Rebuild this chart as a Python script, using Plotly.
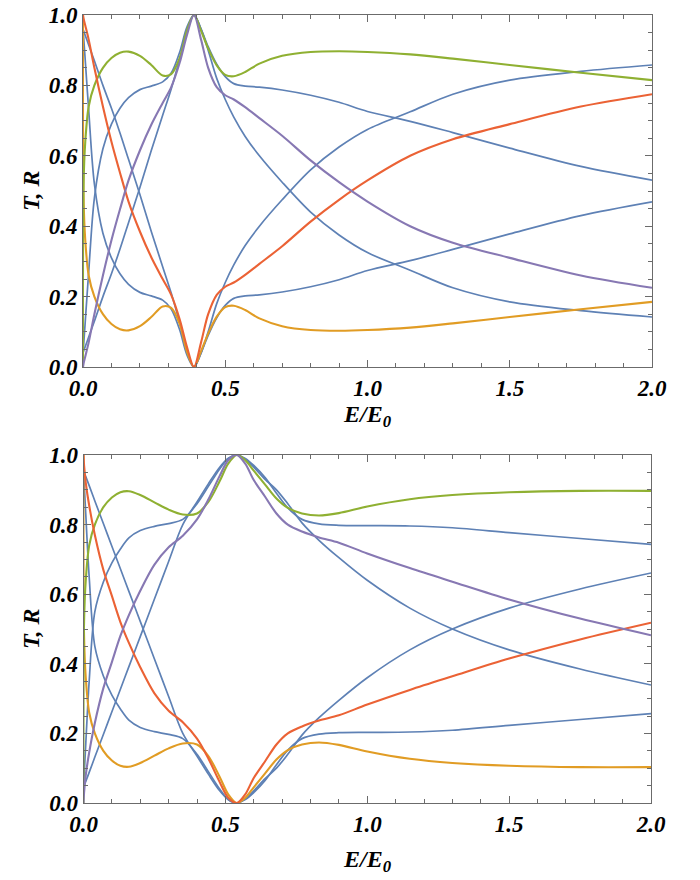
import plotly.graph_objects as go

# ---------------- upper panel: energy grid and curves ----------------
E_top = [0, 0.002, 0.008, 0.02, 0.04, 0.07, 0.1, 0.13, 0.16, 0.2, 0.24, 0.28, 0.31, 0.34, 0.365,
         0.39, 0.415, 0.44, 0.47, 0.5, 0.53, 0.57, 0.62, 0.7, 0.8, 0.9, 1.0, 1.15, 1.3, 1.5, 1.75, 2.0]

green_top = [0.0, 0.52, 0.64, 0.74, 0.80, 0.85, 0.878, 0.893, 0.896, 0.884, 0.858, 0.828, 0.832, 0.878, 0.955,
             1.0, 0.955, 0.905, 0.857, 0.83, 0.826, 0.838, 0.862, 0.884, 0.895, 0.897, 0.895, 0.888, 0.876, 0.858, 0.836, 0.815]
orange_top = [1.0, 0.48, 0.36, 0.26, 0.20, 0.15, 0.122, 0.107, 0.104, 0.116, 0.142, 0.172, 0.168, 0.122, 0.045,
              0.0, 0.045, 0.095, 0.143, 0.17, 0.174, 0.162, 0.138, 0.116, 0.105, 0.103, 0.105, 0.112, 0.124, 0.142, 0.164, 0.185]
red_top = [1.0, 0.99, 0.97, 0.93, 0.85, 0.74, 0.64, 0.552, 0.47, 0.385, 0.312, 0.25, 0.205, 0.135, 0.058,
           0.0, 0.07, 0.15, 0.205, 0.228, 0.24, 0.262, 0.293, 0.343, 0.413, 0.475, 0.53, 0.6, 0.647, 0.69, 0.74, 0.775]
purple_top = [0.0, 0.01, 0.03, 0.07, 0.15, 0.26, 0.36, 0.448, 0.53, 0.615, 0.688, 0.75, 0.795, 0.865, 0.942,
              1.0, 0.93, 0.85, 0.795, 0.772, 0.76, 0.738, 0.707, 0.657, 0.587, 0.525, 0.47, 0.4, 0.353, 0.31, 0.26, 0.225]
blue_a_top = [0.96, 0.955, 0.942, 0.915, 0.87, 0.80, 0.735, 0.665, 0.59, 0.49, 0.385, 0.285, 0.21, 0.125, 0.045,
              0.0, 0.04, 0.1, 0.18, 0.24, 0.29, 0.345, 0.4, 0.475, 0.56, 0.625, 0.675, 0.725, 0.775, 0.815, 0.84, 0.858]
blue_b_top = [0.04, 0.045, 0.058, 0.085, 0.13, 0.20, 0.265, 0.335, 0.41, 0.51, 0.615, 0.715, 0.79, 0.875, 0.955,
              1.0, 0.96, 0.9, 0.82, 0.76, 0.71, 0.655, 0.6, 0.525, 0.44, 0.375, 0.325, 0.275, 0.225, 0.185, 0.16, 0.142]
blue_c_top = [0.04, 0.06, 0.13, 0.27, 0.48, 0.62, 0.69, 0.735, 0.765, 0.788, 0.798, 0.81, 0.835, 0.895, 0.965,
              1.0, 0.96, 0.91, 0.86, 0.825, 0.805, 0.798, 0.795, 0.787, 0.772, 0.752, 0.726, 0.698, 0.666, 0.622, 0.57, 0.531]
blue_d_top = [0.96, 0.94, 0.87, 0.73, 0.52, 0.38, 0.31, 0.265, 0.235, 0.212, 0.202, 0.19, 0.165, 0.105, 0.035,
              0.0, 0.04, 0.09, 0.14, 0.175, 0.195, 0.202, 0.205, 0.213, 0.228, 0.248, 0.274, 0.302, 0.334, 0.378, 0.43, 0.469]

# ---------------- lower panel: energy grid and curves ----------------
E_bot = [0, 0.002, 0.008, 0.02, 0.04, 0.07, 0.1, 0.13, 0.16, 0.2, 0.25, 0.3, 0.35, 0.4, 0.44, 0.48, 0.51,
         0.54, 0.57, 0.6, 0.64, 0.68, 0.72, 0.77, 0.83, 0.9, 1.0, 1.15, 1.3, 1.5, 1.75, 2.0]

green_bot = [0.0, 0.52, 0.64, 0.74, 0.80, 0.85, 0.878, 0.893, 0.896, 0.885, 0.864, 0.843, 0.829, 0.832, 0.865, 0.925, 0.975,
             1.0, 0.985, 0.955, 0.915, 0.875, 0.848, 0.832, 0.826, 0.833, 0.852, 0.873, 0.885, 0.893, 0.897, 0.897]
orange_bot = [1.0, 0.48, 0.36, 0.26, 0.20, 0.15, 0.122, 0.107, 0.104, 0.115, 0.136, 0.157, 0.171, 0.168, 0.135, 0.075, 0.025,
              0.0, 0.015, 0.045, 0.085, 0.125, 0.152, 0.168, 0.174, 0.167, 0.148, 0.127, 0.115, 0.107, 0.103, 0.103]
red_bot = [1.0, 0.97, 0.92, 0.855, 0.77, 0.67, 0.595, 0.52, 0.46, 0.39, 0.315, 0.265, 0.232, 0.185, 0.128, 0.06, 0.015,
           0.0, 0.025, 0.072, 0.12, 0.168, 0.2, 0.22, 0.237, 0.252, 0.283, 0.325, 0.364, 0.415, 0.47, 0.518]
purple_bot = [0.0, 0.03, 0.08, 0.145, 0.23, 0.33, 0.405, 0.48, 0.54, 0.61, 0.685, 0.735, 0.768, 0.815, 0.872, 0.94, 0.985,
              1.0, 0.975, 0.928, 0.88, 0.832, 0.8, 0.78, 0.763, 0.748, 0.717, 0.675, 0.636, 0.585, 0.53, 0.482]
blue_a_bot = [0.955, 0.951, 0.938, 0.912, 0.868, 0.803, 0.738, 0.673, 0.608, 0.522, 0.414, 0.306, 0.2, 0.135, 0.083, 0.035, 0.01,
              0.0, 0.012, 0.035, 0.07, 0.1, 0.14, 0.195, 0.245, 0.295, 0.36, 0.44, 0.5, 0.56, 0.615, 0.661]
blue_b_bot = [0.045, 0.049, 0.062, 0.088, 0.132, 0.197, 0.262, 0.327, 0.392, 0.478, 0.586, 0.694, 0.8, 0.865, 0.917, 0.965, 0.99,
              1.0, 0.988, 0.965, 0.93, 0.9, 0.86, 0.805, 0.755, 0.705, 0.64, 0.56, 0.5, 0.44, 0.385, 0.339]
blue_c_bot = [0.04, 0.075, 0.17, 0.35, 0.55, 0.635, 0.69, 0.73, 0.762, 0.783, 0.795, 0.803, 0.815, 0.86, 0.91, 0.96, 0.99,
              1.0, 0.99, 0.97, 0.935, 0.89, 0.848, 0.815, 0.802, 0.798, 0.797, 0.796, 0.791, 0.777, 0.76, 0.743]
blue_d_bot = [0.96, 0.925, 0.83, 0.65, 0.45, 0.365, 0.31, 0.27, 0.238, 0.217, 0.205, 0.197, 0.185, 0.14, 0.09, 0.04, 0.01,
              0.0, 0.01, 0.03, 0.065, 0.11, 0.152, 0.185, 0.198, 0.202, 0.203, 0.204, 0.209, 0.223, 0.24, 0.257]

x_ticks = [0.0, 0.5, 1.0, 1.5, 2.0]
y_ticks = [0.0, 0.2, 0.4, 0.6, 0.8, 1.0]
x_title = "E/E<sub>0</sub>"
y_title = "T, R"

BLUE = "#5E81B5"
ORANGE = "#E19C24"
GREEN = "#8FB032"
RED = "#EB6235"
PURPLE = "#8778B3"
FRAME = "#6b6b6b"

W, H = 700, 880
# plot-area boxes in pixels: (left, right, top, bottom)
TOP_BOX = (83, 652, 15, 367)
BOT_BOX = (83.5, 651, 455, 803)

fig = go.Figure()


def add_panel(E, blues, colored, xa, ya):
    for ys in blues:
        fig.add_trace(go.Scatter(x=E, y=ys, mode="lines", xaxis=xa, yaxis=ya,
                                 line=dict(color=BLUE, width=1.7, shape="spline", smoothing=0.9),
                                 showlegend=False, hoverinfo="skip"))
    for ys, col in colored:
        fig.add_trace(go.Scatter(x=E, y=ys, mode="lines", xaxis=xa, yaxis=ya,
                                 line=dict(color=col, width=2.1, shape="spline", smoothing=0.9),
                                 showlegend=False, hoverinfo="skip"))


add_panel(E_top, [blue_a_top, blue_b_top, blue_c_top, blue_d_top],
          [(orange_top, ORANGE), (green_top, GREEN), (red_top, RED), (purple_top, PURPLE)], "x", "y")
add_panel(E_bot, [blue_a_bot, blue_b_bot, blue_c_bot, blue_d_bot],
          [(orange_bot, ORANGE), (green_bot, GREEN), (red_bot, RED), (purple_bot, PURPLE)], "x2", "y2")

tick_font = dict(family="Liberation Serif", size=23, color="black", weight="bold", style="italic")
title_font = dict(family="Liberation Serif", size=24, color="black", weight="bold", style="italic")


def xaxis(box, anchor):
    l, r, t, b = box
    return dict(domain=[l / W, r / W], anchor=anchor, range=[0, 2], showgrid=False, zeroline=False,
                automargin=False, showline=True, linecolor=FRAME, linewidth=1, mirror="allticks",
                ticks="inside", ticklen=7, tickcolor=FRAME, tickwidth=1,
                tickvals=x_ticks, ticktext=[f"{v:.1f}" for v in x_ticks], tickfont=tick_font,
                minor=dict(ticks="inside", ticklen=4, tickcolor=FRAME, dtick=0.1, showgrid=False))


def yaxis(box, anchor):
    l, r, t, b = box
    return dict(domain=[1 - b / H, 1 - t / H], anchor=anchor, range=[0, 1], showgrid=False, zeroline=False,
                automargin=False, showline=True, linecolor=FRAME, linewidth=1, mirror="allticks",
                ticks="inside", ticklen=7, tickcolor=FRAME, tickwidth=1,
                tickvals=y_ticks, ticktext=[f"{v:.1f}" for v in y_ticks], tickfont=tick_font,
                minor=dict(ticks="inside", ticklen=4, tickcolor=FRAME, dtick=0.05, showgrid=False))


annotations = []
for box, x_lab_y in ((TOP_BOX, 416), (BOT_BOX, 861)):
    l, r, t, b = box
    annotations.append(dict(text=x_title, x=(l + r) / 2 / W, y=1 - x_lab_y / H, xref="paper", yref="paper",
                            xanchor="center", yanchor="middle", showarrow=False, font=title_font))
    annotations.append(dict(text=y_title, x=31 / W, y=1 - (t + b) / 2 / H, xref="paper", yref="paper",
                            xanchor="center", yanchor="middle", textangle=-90, showarrow=False, font=title_font))

fig.update_layout(
    width=W, height=H, margin=dict(l=0, r=0, t=0, b=0),
    paper_bgcolor="white", plot_bgcolor="white",
    xaxis=xaxis(TOP_BOX, "y"),
    yaxis=yaxis(TOP_BOX, "x"),
    xaxis2=xaxis(BOT_BOX, "y2"),
    yaxis2=yaxis(BOT_BOX, "x2"),
    annotations=annotations,
)

fig.write_html("out.html")
